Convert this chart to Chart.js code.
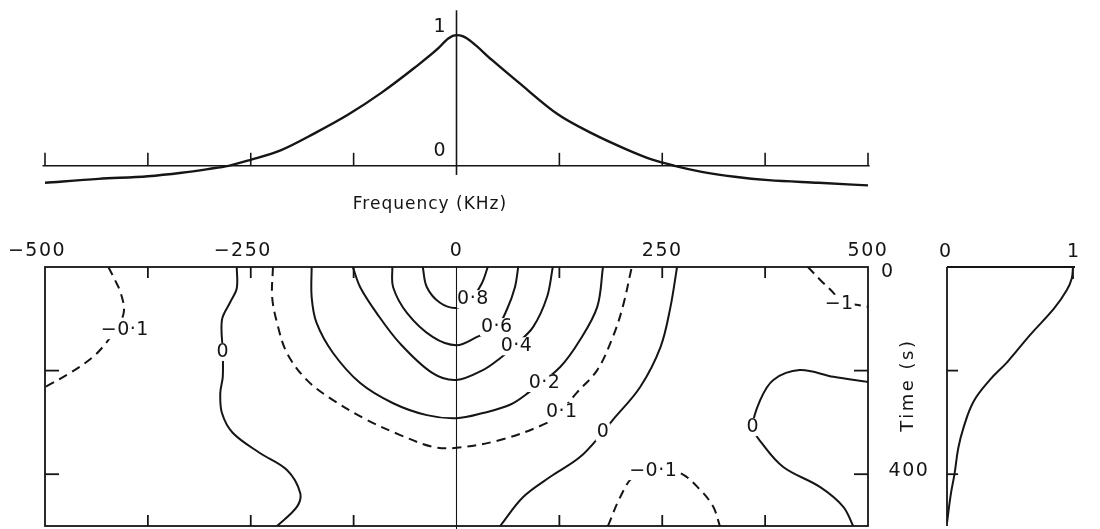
<!DOCTYPE html>
<html>
<head>
<meta charset="utf-8">
<title>Spectrum / time contour</title>
<script src="https://cdn.jsdelivr.net/npm/chart.js@4.4.1/dist/chart.umd.min.js"></script>
<style>
    body { margin: 0; background: #fff; width: 1100px; height: 529px; position: relative; overflow: hidden; }
    canvas { position: absolute; }
    #topChart { left: 0; top: 0; }
    #mainChart { left: 0; top: 230px; }
    #sideChart { left: 900px; top: 230px; }
</style>
</head>
<body>
<canvas id="topChart" width="900" height="230"></canvas>
<canvas id="mainChart" width="940" height="299"></canvas>
<canvas id="sideChart" width="200" height="299"></canvas>

<script>
// ---- data ----

// top panel: spectrum, frequency (kHz) vs normalised amplitude
const specFreq = [-500, -435, -375, -334, -302, -277, -251, -213, -172, -132, -91, -51, -22, -10, 0,
                  8, 18, 43, 75, 124, 164, 205, 237, 265, 298, 338, 379, 440, 500];
const specAmp = [-0.13, -0.10, -0.08, -0.053, -0.025, 0, 0.044, 0.12, 0.25, 0.39, 0.56, 0.75, 0.90, 0.975, 1.0,
                 0.99, 0.95, 0.81, 0.64, 0.39, 0.25, 0.13, 0.049, 0, -0.046, -0.084, -0.11, -0.13, -0.15];

// right panel: amplitude vs time (s)
const profTime = [0, 22, 45, 80, 131, 183, 218, 260, 311, 349, 399, 439, 494];
const profAmp = [1.0, 0.99, 0.95, 0.85, 0.66, 0.48, 0.34, 0.21, 0.13, 0.09, 0.06, 0.03, 0.0];

// contour lines, [frequency, time] pairs
const contourNeg01Left = [[-423, 0], [-415, 25], [-408, 50], [-404, 83], [-409, 108], [-425, 145], [-442, 174], [-470, 205], [-500, 232]];
const contourZeroLeft = [[-267, 0], [-267, 41], [-275, 68], [-285, 102], [-284, 164], [-284, 212], [-287, 243],
                         [-285, 282], [-272, 320], [-239, 359], [-206, 392], [-190, 436], [-194, 463], [-218, 500]];
const contour01 = [[-223, 0], [-224, 58], [-218, 108], [-206, 166], [-182, 218], [-150, 257], [-109, 295], [-69, 324],
                   [-29, 347], [0, 349], [53, 334], [110, 301], [126, 280], [146, 243], [171, 199], [190, 135], [202, 77], [213, 0]];
const contour02 = [[-176, 0], [-176, 58], [-170, 108], [-150, 166], [-117, 224], [-77, 263], [-36, 286], [0, 292],
                   [32, 282], [65, 266], [87, 243], [126, 193], [150, 141], [171, 77], [178, 0]];
const contour04 = [[-126, 0], [-117, 39], [-97, 89], [-69, 147], [-29, 205], [0, 218], [32, 199], [53, 176],
                   [71, 151], [93, 116], [110, 58], [117, 0]];
const contour06 = [[-78, 0], [-77, 39], [-60, 89], [-29, 135], [0, 151], [25, 135], [49, 116], [61, 83], [71, 39], [75, 0]];
const contour08 = [[-41, 0], [-36, 39], [-20, 69], [0, 79], [17, 64], [31, 31], [38, 0]];
const contourZeroMid = [[53, 500], [81, 444], [114, 405], [150, 367], [178, 319], [190, 295], [223, 232], [248, 154], [260, 77], [268, 0]];
const contourZeroRight = [[500, 222], [458, 212], [417, 199], [385, 218], [369, 257], [360, 309], [371, 340],
                          [397, 386], [442, 425], [470, 463], [482, 500]];
const contourNeg01Bottom = [[184, 500], [199, 444], [215, 405], [244, 392], [272, 398], [296, 430], [312, 463], [320, 500]];
const contourNeg1Top = [[427, 0], [442, 25], [458, 50], [466, 68], [486, 73], [500, 77]];

// contour labels: text, frequency, time
const contourLabels = [
    ['\u22120\u00b71', -403, 122], ['0', -284, 164], ['0\u00b78', 20, 62], ['0\u00b76', 49, 116],
    ['0\u00b74', 73, 153], ['0\u00b72', 107, 224], ['0\u00b71', 128, 280], ['0', 178, 319],
    ['0', 360, 309], ['\u22120\u00b71', 239, 394], ['\u22121', 465, 71]
];

// tick positions / labels
const freqTicks = [-500, -375, -250, -125, 125, 250, 375, 500];
const freqLabels = [-500, -250, 0, 250, 500];
const timeTicks = [200, 400];

const INK = '#151515';
const FONT = '"DejaVu Sans", "Liberation Sans", sans-serif';

function stroke(ctx, x1, y1, x2, y2) {
    ctx.beginPath();
    ctx.moveTo(x1, y1);
    ctx.lineTo(x2, y2);
    ctx.stroke();
}

function label(ctx, s, x, y, size, spacing) {
    ctx.font = size + 'px ' + FONT;
    ctx.letterSpacing = (spacing || 0) + 'px';
    ctx.textAlign = 'center';
    ctx.textBaseline = 'middle';
    ctx.fillStyle = INK;
    ctx.fillText(s, x, y);
}

function pairs(list) {
    return list.map(p => ({ x: p[0], y: p[1] }));
}

const baseOptions = {
    responsive: false,
    animation: false,
    events: [],
    plugins: { legend: { display: false }, tooltip: { enabled: false } }
};

// ---- top: spectrum ----
const topAxes = {
    id: 'topAxes',
    beforeDatasetsDraw(chart) {
        const { ctx, scales: { x, y } } = chart;
        const y0 = y.getPixelForValue(0);
        const x0 = x.getPixelForValue(0);
        ctx.save();
        ctx.strokeStyle = INK;
        ctx.lineWidth = 1.6;
        stroke(ctx, x.getPixelForValue(-503), y0, x.getPixelForValue(502), y0);
        freqTicks.forEach(v => {
            const px = x.getPixelForValue(v);
            stroke(ctx, px, y0, px, y0 - 13);
        });
        stroke(ctx, x0, y.getPixelForValue(1.19), x0, y.getPixelForValue(-0.07));
        label(ctx, '1', x0 - 17, y.getPixelForValue(1.06), 19);
        label(ctx, '0', x0 - 17, y0 - 15, 19);
        label(ctx, 'Frequency (KHz)', 430, 205, 17, 1);
        ctx.restore();
    }
};

new Chart(document.getElementById('topChart'), {
    type: 'scatter',
    data: {
        datasets: [{
            data: specFreq.map((f, i) => ({ x: f, y: specAmp[i] })),
            showLine: true,
            borderColor: INK,
            borderWidth: 2.4,
            pointRadius: 0,
            cubicInterpolationMode: 'monotone'
        }]
    },
    options: {
        ...baseOptions,
        layout: { padding: { left: 45, right: 32, top: 9, bottom: 25 } },
        scales: {
            x: { type: 'linear', min: -500, max: 500, display: false },
            y: { type: 'linear', min: -0.3, max: 1.2, display: false }
        }
    },
    plugins: [topAxes]
});

// ---- main: contour map ----
const contours = [
    { pts: contourNeg01Left, dashed: true },
    { pts: contourZeroLeft, dashed: false },
    { pts: contour01, dashed: true },
    { pts: contour02, dashed: false },
    { pts: contour04, dashed: false },
    { pts: contour06, dashed: false },
    { pts: contour08, dashed: false },
    { pts: contourZeroMid, dashed: false },
    { pts: contourZeroRight, dashed: false },
    { pts: contourNeg01Bottom, dashed: true },
    { pts: contourNeg1Top, dashed: true }
];

const mainAxes = {
    id: 'mainAxes',
    beforeDatasetsDraw(chart) {
        const { ctx, chartArea: a, scales: { x, y } } = chart;
        ctx.save();
        ctx.strokeStyle = INK;
        ctx.lineWidth = 1.8;
        ctx.strokeRect(a.left, a.top, a.right - a.left, a.bottom - a.top);
        freqTicks.forEach(v => {
            if (Math.abs(v) === 500) return;
            const px = x.getPixelForValue(v);
            stroke(ctx, px, a.top, px, a.top + 11);
            stroke(ctx, px, a.bottom, px, a.bottom - 11);
        });
        timeTicks.forEach(v => {
            const py = y.getPixelForValue(v);
            stroke(ctx, a.left, py, a.left + 14, py);
            stroke(ctx, a.right, py, a.right - 14, py);
        });
        freqLabels.forEach(v => {
            const s = v < 0 ? '\u2212' + Math.abs(v) : String(v);
            label(ctx, s, x.getPixelForValue(v) - (v < 0 ? 8 : 0), a.top - 16, 19, 1.5);
        });
        label(ctx, '0', a.right + 19, y.getPixelForValue(0) + 5, 19);
        label(ctx, '400', a.right + 41, y.getPixelForValue(400) - 3, 19, 1.5);
        ctx.translate(a.right + 40, y.getPixelForValue(228));
        ctx.rotate(-Math.PI / 2);
        label(ctx, 'Time (s)', 0, 0, 18, 2.5);
        ctx.restore();
    },
    afterDatasetsDraw(chart) {
        const { ctx, chartArea: a, scales: { x, y } } = chart;
        ctx.save();
        contourLabels.forEach(([s, f, t]) => {
            const px = x.getPixelForValue(f);
            const py = y.getPixelForValue(t);
            ctx.font = '19px ' + FONT;
            ctx.letterSpacing = '0.5px';
            const w = ctx.measureText(s).width;
            ctx.fillStyle = '#fff';
            ctx.fillRect(px - w / 2 - 1, py - 9, w + 2, 18);
            label(ctx, s, px, py, 19, 0.5);
        });
        // centre line on top of everything
        ctx.strokeStyle = INK;
        ctx.lineWidth = 1.1;
        const x0 = x.getPixelForValue(0);
        stroke(ctx, x0, a.top, x0, a.bottom + 3);
        ctx.restore();
    }
};

new Chart(document.getElementById('mainChart'), {
    type: 'scatter',
    data: {
        datasets: contours.map(c => ({
            data: pairs(c.pts),
            showLine: true,
            borderColor: INK,
            borderWidth: 2,
            borderDash: c.dashed ? [9, 6] : [],
            pointRadius: 0,
            tension: 0.35
        }))
    },
    options: {
        ...baseOptions,
        layout: { padding: { left: 45, right: 72, top: 37, bottom: 3 } },
        scales: {
            x: { type: 'linear', min: -500, max: 500, display: false },
            y: { type: 'linear', min: 0, max: 500, reverse: true, display: false }
        }
    },
    plugins: [mainAxes]
});

// ---- right: time profile ----
const sideAxes = {
    id: 'sideAxes',
    beforeDatasetsDraw(chart) {
        const { ctx, chartArea: a, scales: { x, y } } = chart;
        ctx.save();
        ctx.strokeStyle = INK;
        ctx.lineWidth = 1.8;
        stroke(ctx, a.left, a.top, a.right + 2, a.top);
        stroke(ctx, a.left, a.top, a.left, a.bottom);
        timeTicks.forEach(v => {
            const py = y.getPixelForValue(v);
            stroke(ctx, a.left, py, a.left + 11, py);
        });
        const x1 = x.getPixelForValue(1);
        stroke(ctx, x1, a.top, x1, a.top + 12);
        label(ctx, '0', x.getPixelForValue(0) - 2, a.top - 15, 19);
        label(ctx, '1', x1, a.top - 15, 19);
        ctx.restore();
    }
};

new Chart(document.getElementById('sideChart'), {
    type: 'scatter',
    data: {
        datasets: [{
            data: profTime.map((t, i) => ({ x: profAmp[i], y: t })),
            showLine: true,
            borderColor: INK,
            borderWidth: 2,
            pointRadius: 0,
            tension: 0.4
        }]
    },
    options: {
        ...baseOptions,
        layout: { padding: { left: 47, right: 27, top: 37, bottom: 3 } },
        scales: {
            x: { type: 'linear', min: 0, max: 1, display: false },
            y: { type: 'linear', min: 0, max: 500, reverse: true, display: false }
        }
    },
    plugins: [sideAxes]
});
</script>
</body>
</html>
